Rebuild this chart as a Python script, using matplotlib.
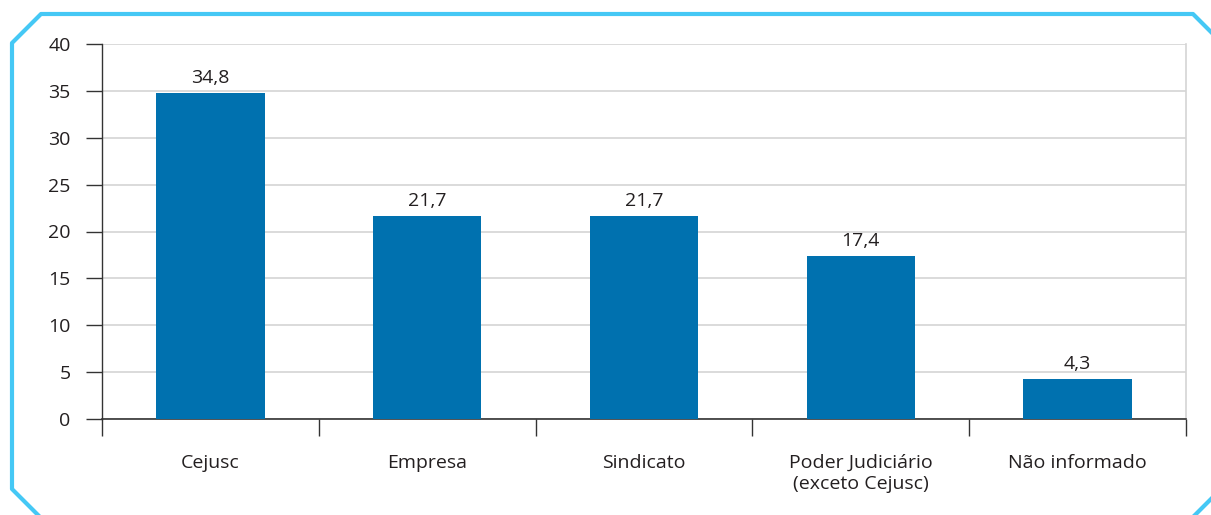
import matplotlib.pyplot as plt
from matplotlib.lines import Line2D

categories = [
    "Cejusc",
    "Empresa",
    "Sindicato",
    "Poder Judiciário\n(exceto Cejusc)",
    "Não informado",
]

values = [34.8, 21.7, 21.7, 17.4, 4.3]

value_labels = ["34,8", "21,7", "21,7", "17,4", "4,3"]

y_ticks = [0, 5, 10, 15, 20, 25, 30, 35, 40]

BAR_COLOR = "#0071AF"
FRAME_COLOR = "#45C8F5"
TEXT_COLOR = "#231F20"

plt.rcParams["font.family"] = ["Open Sans", "DejaVu Sans"]

W, H = 1211, 515
fig = plt.figure(figsize=(W / 100, H / 100), dpi=100)

ax = fig.add_axes([
    102 / W,
    1 - 419 / H,
    (1186 - 102) / W,
    (419 - 44) / H,
])

positions = list(range(len(categories)))

bars = ax.bar(
    positions,
    values,
    width=0.5,
    color=BAR_COLOR,
    zorder=3,
)

for bar, text in zip(bars, value_labels):
    ax.annotate(
        text,
        (bar.get_x() + bar.get_width() / 2, bar.get_height()),
        xytext=(0, 4),
        textcoords="offset points",
        ha="center",
        va="bottom",
        fontsize=14,
        color=TEXT_COLOR,
    )

ax.set_xlim(-0.5, len(categories) - 0.5)
ax.set_ylim(0, 40)

ax.set_yticks(y_ticks)
ax.set_yticklabels([str(t) for t in y_ticks])

ax.set_xticks(positions)
ax.set_xticklabels(categories, linespacing=1.2)
ax.set_xticks([p - 0.5 for p in range(len(categories) + 1)], minor=True)

ax.tick_params(
    axis="y",
    direction="out",
    length=11.5,
    width=1,
    color="#333333",
    pad=11,
    labelsize=14,
    labelcolor=TEXT_COLOR,
)

ax.tick_params(
    axis="x",
    which="major",
    length=0,
    pad=25,
    labelsize=14,
    labelcolor=TEXT_COLOR,
)

ax.tick_params(
    axis="x",
    which="minor",
    direction="out",
    length=12,
    width=1,
    color="#333333",
)

for label in ax.get_xticklabels():
    label.set_verticalalignment("top")

ax.grid(axis="y", color="#D4D4D4", linewidth=1.2, zorder=0)

ax.spines["left"].set_color("#333333")
ax.spines["bottom"].set_color("#333333")
ax.spines["left"].set_linewidth(1)
ax.spines["bottom"].set_linewidth(1.2)
ax.spines["right"].set_color("#D4D4D4")
ax.spines["right"].set_linewidth(1.2)
ax.spines["top"].set_visible(False)

# light blue frame with cut corners
frame_x = [40, 12, 12, 41, 1193, 1215]
frame_y = [517, 489, 43, 14, 14, 36]

fig.add_artist(
    Line2D(
        [x / W for x in frame_x],
        [1 - y / H for y in frame_y],
        transform=fig.transFigure,
        color=FRAME_COLOR,
        linewidth=3,
    )
)

fig.add_artist(
    Line2D(
        [1193 / W, 1215 / W],
        [1 - 517 / H, 1 - 495 / H],
        transform=fig.transFigure,
        color=FRAME_COLOR,
        linewidth=3,
    )
)

fig.savefig("out.png", dpi=100)
